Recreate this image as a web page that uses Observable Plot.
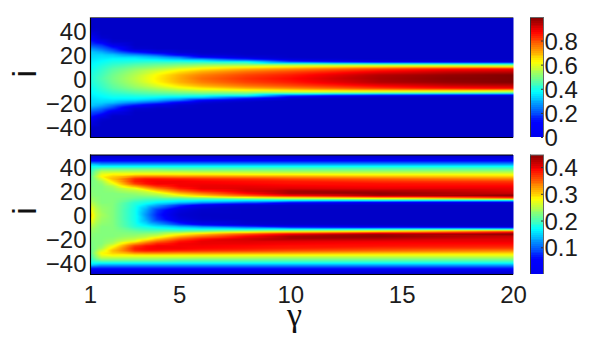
<!DOCTYPE html>
<html><head><meta charset="utf-8">
<script src="https://cdn.jsdelivr.net/npm/d3@7"></script>
<script src="https://cdn.jsdelivr.net/npm/@observablehq/plot@0.6"></script>
<style>html,body{margin:0;padding:0;background:#fff;width:603px;height:343px;overflow:hidden}svg{position:absolute}</style>
</head><body>
<script>
const jetColors = ["#0000c8","#0000ff","#00ffff","#ffff00","#ff0000","#800000"];
const barColors = ["#0000f0","#0000ff","#00ffff","#ffff00","#ff0000","#800000"];
const jetStops = [0,.125,.375,.625,.875,1];
const font = "Liberation Sans, Arial, sans-serif";
const ink = "#1c1c1c";

const topGamma = [1,1.5,2,3,4,5,6,8,10,12,14,17,20];
const topI = [0,3,6,8,10,12,14,16,18,20,22,25,28,31,34,37,40,43,52];
const topValues = [
[.40,.45,.49,.56,.64,.71,.77,.83,.87,.92,.96,.99,1],
[.40,.44,.485,.55,.63,.70,.75,.81,.85,.90,.95,.98,1],
[.39,.43,.47,.53,.59,.65,.70,.76,.80,.84,.88,.92,.93],
[.38,.42,.46,.51,.55,.60,.64,.70,.74,.78,.82,.86,.88],
[.375,.41,.44,.48,.51,.54,.57,.60,.63,.65,.66,.66,.63],
[.37,.395,.42,.45,.47,.485,.50,.50,.49,.48,.47,.46,.44],
[.36,.38,.40,.41,.42,.42,.41,.39,.20,.14,.10,.07,.05],
[.35,.365,.38,.38,.36,.33,.30,.18,.05,.02,0,0,0],
[.34,.35,.35,.34,.30,.24,.12,.04,0,0,0,0,0],
[.335,.335,.32,.26,.20,.10,.03,0,0,0,0,0,0],
[.33,.30,.25,.15,.07,.02,0,0,0,0,0,0,0],
[.27,.23,.17,.02,0,0,0,0,0,0,0,0,0],
[.20,.17,.08,0,0,0,0,0,0,0,0,0,0],
[.155,.09,.01,0,0,0,0,0,0,0,0,0,0],
[.11,.02,0,0,0,0,0,0,0,0,0,0,0],
[.065,0,0,0,0,0,0,0,0,0,0,0,0],
[.02,0,0,0,0,0,0,0,0,0,0,0,0],
[0,0,0,0,0,0,0,0,0,0,0,0,0],
[0,0,0,0,0,0,0,0,0,0,0,0,0]];

const botGamma = [1,1.25,1.5,2,3,3.5,4,5,6,8,10,14,20];
const botI = [0,4,8,10,12,14,16,18,20,22,24,26,28,30,32,34,36,38,40,42,45,48,50];
const botValues = [
[.30,.255,.24,.225,.175,.12,.07,.012,0,0,0,0,0],
[.28,.25,.235,.225,.175,.13,.08,.025,.005,0,0,0,0],
[.26,.24,.23,.225,.18,.155,.13,.08,.04,.01,.005,0,0],
[.25,.235,.225,.225,.185,.175,.16,.14,.12,.09,.05,.03,.01],
[.24,.23,.225,.225,.20,.19,.185,.175,.17,.165,.165,.17,.17],
[.235,.23,.225,.225,.215,.21,.21,.215,.225,.25,.27,.30,.36],
[.23,.225,.225,.225,.225,.23,.235,.27,.30,.35,.39,.43,.445],
[.23,.225,.225,.225,.235,.245,.26,.31,.34,.39,.43,.44,.415],
[.225,.225,.225,.23,.25,.265,.30,.35,.38,.41,.43,.425,.405],
[.225,.225,.225,.235,.27,.31,.34,.38,.40,.405,.405,.40,.40],
[.22,.225,.225,.245,.32,.35,.375,.395,.40,.40,.395,.39,.39],
[.22,.225,.23,.27,.365,.385,.395,.395,.395,.39,.385,.385,.38],
[.22,.225,.24,.29,.38,.39,.395,.395,.39,.385,.38,.37,.365],
[.215,.235,.26,.31,.375,.385,.385,.38,.375,.37,.36,.35,.335],
[.21,.245,.28,.30,.33,.335,.335,.33,.33,.325,.32,.31,.30],
[.20,.235,.27,.28,.28,.28,.28,.28,.28,.275,.275,.27,.27],
[.195,.225,.25,.25,.25,.25,.25,.25,.245,.245,.24,.24,.24],
[.185,.205,.22,.22,.22,.22,.22,.21,.21,.21,.21,.21,.21],
[.175,.18,.18,.18,.18,.18,.18,.18,.18,.18,.18,.18,.18],
[.15,.14,.13,.13,.13,.13,.13,.13,.13,.13,.13,.13,.13],
[.06,.06,.06,.06,.06,.06,.06,.06,.06,.06,.06,.06,.06],
[.02,.02,.02,.02,.02,.02,.02,.02,.02,.02,.02,.02,.02],
[0,0,0,0,0,0,0,0,0,0,0,0,0]];

const yTicks = [-40,-20,0,20,40];
const xTicks = [1,5,10,15,20];
const topBarTicks = [0,.2,.4,.6,.8];
const botBarTicks = [.1,.2,.3,.4];

function grid(gammas, is, rows){
  const out = [];
  is.forEach((i,r)=>gammas.forEach((g,c)=>{
    out.push({g,i,v:rows[r][c]});
    if(i>0) out.push({g,i:-i,v:rows[r][c]});
  }));
  return out;
}

function panel({gammas,is,rows,vmax,yDomain,top,height,mt,mb,xAxis,frameTop}){
  const marks = [
    Plot.raster(grid(gammas,is,rows),{x:"g",y:"i",fill:"v",interpolate:"barycentric",pixelSize:1}),
    Plot.ruleX([1],{stroke:"#000",strokeWidth:1.2}),
    Plot.ruleY([yDomain[0]],{stroke:"#000",strokeWidth:1.2}),
    Plot.ruleY([yDomain[1]],{stroke:frameTop,strokeWidth:1.2}),
    Plot.axisY({ticks:yTicks,tickSize:0,tickPadding:4,fontSize:24,fontFamily:font,color:ink,label:null,dy:1.5}),
    Plot.text(["i"],{frameAnchor:"left",dx:-65,rotate:-90,fontSize:34,fontFamily:font,fill:"#111"})
  ];
  if(xAxis){
    marks.push(Plot.axisX({ticks:xTicks,tickSize:0,tickPadding:11,fontSize:24,fontFamily:font,color:ink,label:null}));
    marks.push(Plot.text(["γ"],{frameAnchor:"bottom",dy:51,dx:-7.5,fontSize:34,fontFamily:"Liberation Serif, serif",fill:"#111"}));
  } else {
    marks.push(Plot.axisX({ticks:[],label:null}));
  }
  return Plot.plot({
    width:603,height,marginLeft:90,marginRight:90,marginTop:mt,marginBottom:mb,
    style:{position:"absolute",left:"0px",top:top+"px",background:"transparent",overflow:"visible"},
    x:{domain:[1,20]},y:{domain:yDomain},
    color:{type:"linear",domain:jetStops.map(s=>s*vmax),range:jetColors,clamp:true},
    marks
  });
}

function bar({vmax,ticks,top,height,mt,mb}){
  const levels = d3.range(64).map(k=>({a:k*vmax/64,b:(k+1)*vmax/64,v:(k+.5)*vmax/64}));
  return Plot.plot({
    width:78,height,marginLeft:5,marginRight:60,marginTop:mt,marginBottom:mb,
    style:{position:"absolute",left:"525px",top:top+"px",background:"transparent",overflow:"visible"},
    x:{domain:[0,1],axis:null},y:{domain:[0,vmax]},
    color:{type:"linear",domain:jetStops.map(s=>s*vmax),range:barColors,clamp:true},
    marks:[
      Plot.rect(levels,{y1:"a",y2:"b",fill:"v",x1:0,x2:1,shapeRendering:"crispEdges"}),
      Plot.ruleX([0],{stroke:"#333"}),
      Plot.ruleX([1],{stroke:"#666"}),
      Plot.ruleY([vmax],{stroke:"#666"}),
      Plot.tickY(ticks,{y:d=>d,stroke:"#333",insetLeft:11}),
      Plot.axisY({anchor:"right",ticks,tickSize:0,tickPadding:1,fontSize:24,fontFamily:font,color:ink,label:null,tickFormat:d=>String(d),dy:1})
    ]
  });
}

document.body.append(
  panel({gammas:topGamma,is:topI,rows:topValues,vmax:1,yDomain:[-49,51],top:0,height:150,mt:17,mb:13,xAxis:false,frameTop:"#666"}),
  panel({gammas:botGamma,is:botI,rows:botValues,vmax:.447,yDomain:[-50,50],top:145,height:198,mt:9.5,mb:69,xAxis:true,frameTop:"#000"}),
  bar({vmax:.995,ticks:topBarTicks,top:0,height:150,mt:17,mb:13}),
  bar({vmax:.447,ticks:botBarTicks,top:145,height:198,mt:9.5,mb:69})
);
</script>
</body></html>
